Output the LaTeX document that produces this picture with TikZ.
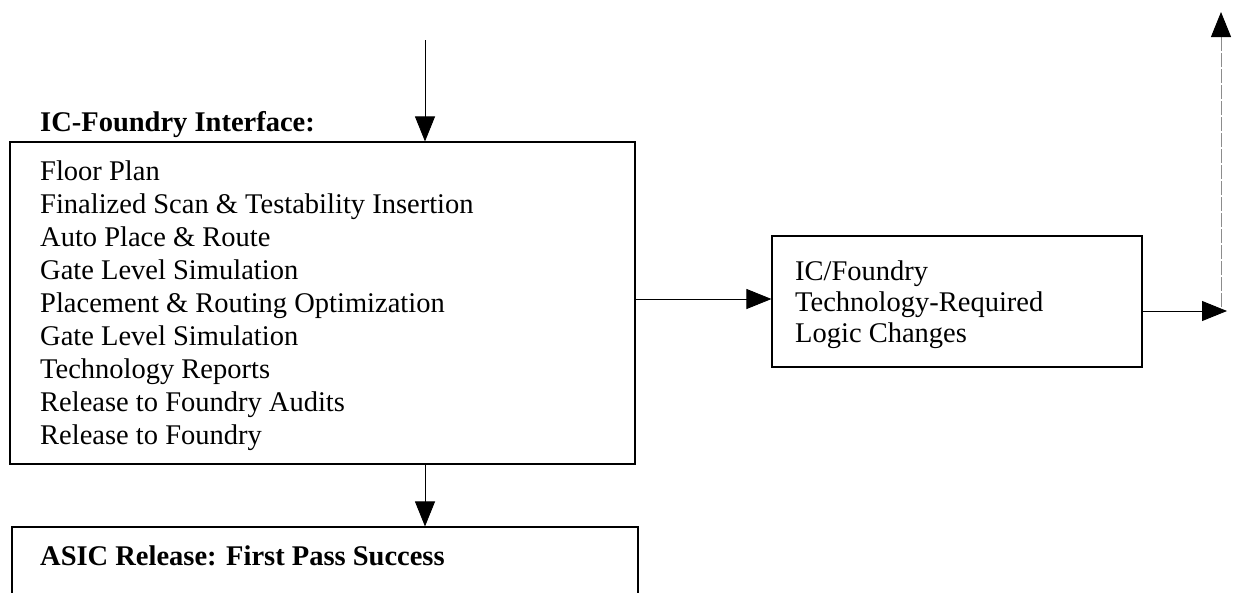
\documentclass[tikz,border=0pt]{standalone}
\usepackage{fontspec}
\setmainfont{Liberation Serif}
\usetikzlibrary{arrows.meta}
\begin{document}
\begin{tikzpicture}[x=1pt,y=-1pt,
  box/.style={draw=black,line width=1.1pt,inner sep=0pt},
  txt/.style={anchor=base west,inner sep=0pt,font=\fontsize{28.5}{34}\selectfont},
  btxt/.style={txt,font=\fontsize{28.5}{34}\selectfont\bfseries},
  conn/.style={line width=0.9pt,-{Triangle[length=25pt,width=20pt]}},
  faint/.style={draw=black!45,line width=0.9pt,dash pattern=on 14pt off 2pt,-{Triangle[length=25pt,width=20pt,color=black]}}]
\useasboundingbox (0,0) rectangle (1234,592);
\clip (0,0) rectangle (1234,592);
% boxes
\node[box,minimum width=625pt,minimum height=322pt] (main) at (322.5,303) {};
\node[box,minimum width=370pt,minimum height=131pt] (right) at (957,301.5) {};
\node[box,minimum width=626pt,minimum height=120pt] (bottom) at (325,587) {};
% labels
\node[btxt] (title) at (40,131) {IC-Foundry Interface:};
\node[btxt] (asic) at (40,565) {ASIC Release: First Pass Success};
\foreach \t [count=\i] in {Floor Plan,Finalized Scan \& Testability Insertion,Auto Place \& Route,Gate Level Simulation,Placement \& Routing Optimization,Gate Level Simulation,Technology Reports,Release to Foundry Audits,Release to Foundry}
  \node[txt] (l\i) at (40,{180+(\i-1)*33.1}) {\t};
\node[txt] (r1) at (795,280) {IC/Foundry};
\node[txt] (r2) at (795,311) {Technology-Required};
\node[txt] (r3) at (795,342) {Logic Changes};
% connectors
\coordinate (topin) at (425,40);
\draw[conn] (topin) -- (topin |- main.north);
\draw[conn] (main.south -| topin) -- (bottom.north -| topin);
\coordinate (a) at ([yshift=4pt]main.east);
\draw[conn] (a) -- (a -| right.west);
\coordinate (b) at ([yshift=-9.5pt]right.east);
\coordinate (outR) at (1227,311);
\draw[conn] (b) -- (outR);
\coordinate (upS) at (1221,307);
\coordinate (upE) at (1221,12);
\draw[faint] (upS) -- (upE);
\end{tikzpicture}
\end{document}
